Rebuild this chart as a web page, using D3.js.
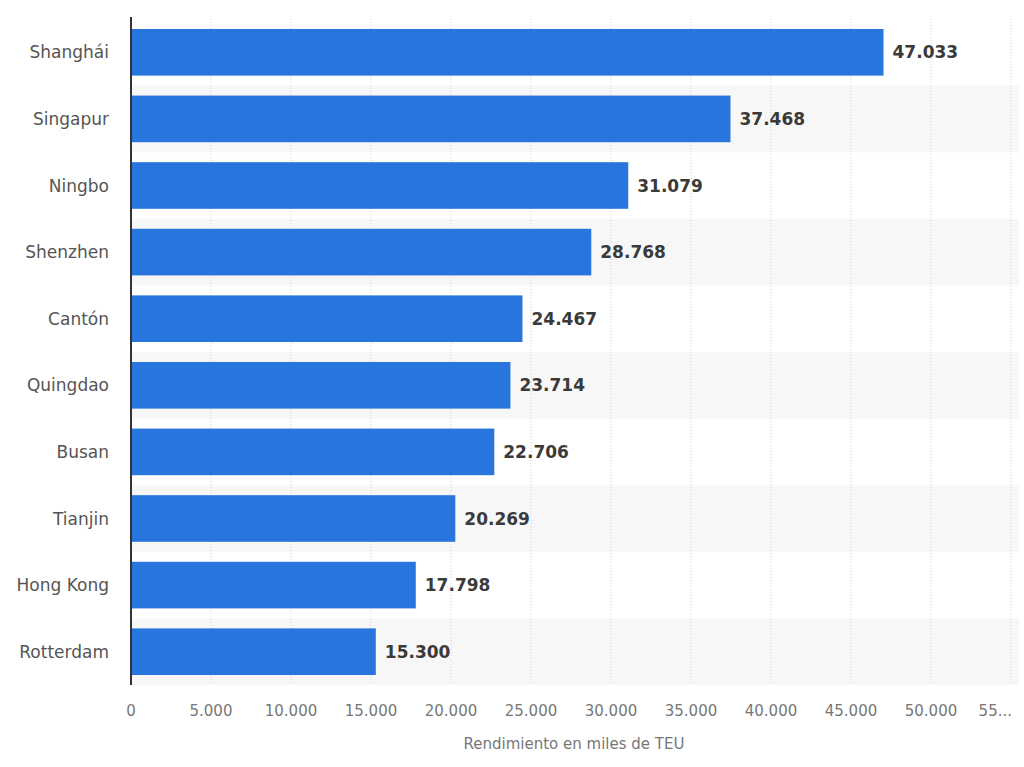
<!DOCTYPE html>
<html><head><meta charset="utf-8">
<script src="https://cdn.jsdelivr.net/npm/d3@7"></script>
<style>body{margin:0;background:#fff;font-family:"DejaVu Sans",sans-serif}</style>
</head><body><div id="chart"></div>
<script>
var ports = ['Shanghái','Singapur','Ningbo','Shenzhen','Cantón','Quingdao','Busan','Tianjin','Hong Kong','Rotterdam'];
var teu = [47033,37468,31079,28768,24467,23714,22706,20269,17798,15300];
var ticks = [0,5000,10000,15000,20000,25000,30000,35000,40000,45000,50000,55000];

var width = 1024, height = 767;
var plotLeft = 131, plotTop = 19, plotBottom = 685;
var fmt = function(v){ return d3.format(',')(v).replace(/,/g,'.'); };

var x = d3.scaleLinear().domain([0,55000]).range([plotLeft, plotLeft+880]);
var y = d3.scaleBand().domain(ports).range([plotTop,plotBottom]).paddingInner(0).paddingOuter(0);

var svg = d3.select('#chart').append('svg').attr('width',width).attr('height',height);

// alternating stripes
svg.selectAll('rect.stripe').data(ports.filter(function(d,i){return i%2==1;}))
  .enter().append('rect')
  .attr('x',plotLeft).attr('width',1019-plotLeft)
  .attr('y',function(d){return y(d);}).attr('height',y.bandwidth())
  .style('fill','#f7f7f7');

// dotted grid
svg.selectAll('line.grid').data(ticks.slice(1))
  .enter().append('line')
  .attr('x1',function(d){return x(d);}).attr('x2',function(d){return x(d);})
  .attr('y1',plotTop).attr('y2',plotBottom)
  .style('stroke','#d0d0d0').style('stroke-dasharray','1,2');

// bars
svg.selectAll('rect.bar').data(teu)
  .enter().append('rect')
  .attr('x',plotLeft)
  .attr('y',function(d,i){return y(ports[i])+y.bandwidth()*0.15;})
  .attr('height',y.bandwidth()*0.7)
  .attr('width',function(d){return x(d)-plotLeft;})
  .style('fill','#2876dd');

// value labels
svg.selectAll('text.val').data(teu)
  .enter().append('text')
  .text(function(d){return fmt(d);})
  .attr('x',function(d){return x(d)+9;})
  .attr('y',function(d,i){return y(ports[i])+y.bandwidth()/2;})
  .attr('dominant-baseline','central')
  .style('font-size','17px').style('font-weight','bold').style('fill','#3a3a3a');

// category labels
svg.selectAll('text.cat').data(ports)
  .enter().append('text')
  .text(function(d){return d;})
  .attr('x',plotLeft-22)
  .attr('y',function(d){return y(d)+y.bandwidth()/2;})
  .attr('dominant-baseline','central')
  .style('text-anchor','end')
  .style('font-size','17px').style('fill','#555');

// tick labels (last one is truncated, as in the original)
svg.selectAll('text.tick').data(ticks)
  .enter().append('text')
  .text(function(d){ return d==55000 ? '55...' : fmt(d); })
  .attr('x',function(d){return d==55000 ? x(d)+1 : x(d);})
  .attr('y',711)
  .attr('dominant-baseline','central')
  .style('text-anchor',function(d){return d==55000 ? 'end' : 'middle';})
  .style('font-size','15px').style('fill','#777');

// y axis line
svg.append('line').attr('x1',plotLeft).attr('x2',plotLeft).attr('y1',plotTop-2).attr('y2',plotBottom)
  .style('stroke','#333').style('stroke-width',2);

svg.append('text').text('Rendimiento en miles de TEU')
  .attr('x',574).attr('y',744).attr('dominant-baseline','central')
  .style('text-anchor','middle').style('font-size','15px').style('fill','#777');
</script></body></html>
